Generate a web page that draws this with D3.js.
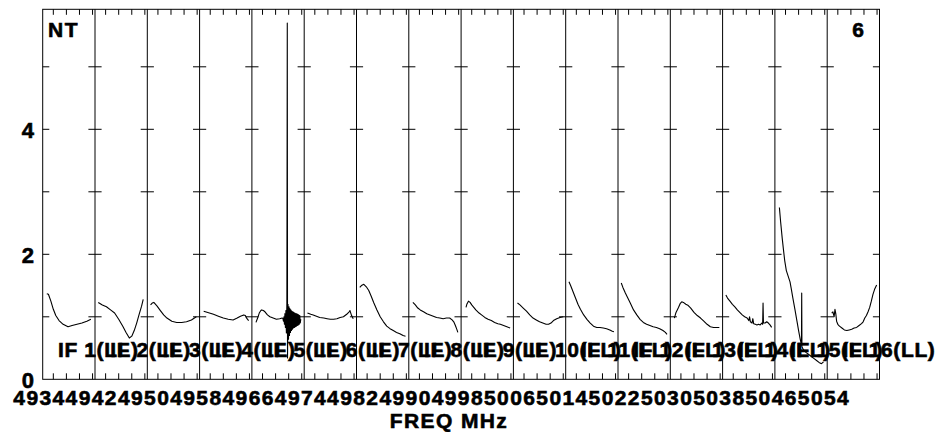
<!DOCTYPE html>
<html><head><meta charset="utf-8">
<script src="https://cdn.jsdelivr.net/npm/d3@7"></script>
<style>
html,body{margin:0;padding:0;background:#fff;}
svg text{font-family:"Liberation Sans",Arial,Helvetica,sans-serif;font-weight:bold;fill:#000;stroke:#000;stroke-width:0.6px;}
</style></head>
<body><svg id="chart" width="944" height="432"></svg>
<script>
// IF reference frequencies (MHz), tick labels along the bottom
const ifFreqs = [4934,4942,4950,4958,4966,4974,4982,4990,4998,5006,5014,5022,5030,5038,5046,5054];
const ifLabels = ifFreqs.map((f,i)=>`IF ${i+1}(LL)`);
const channelsPerIF = 64;
const minorTickChannels = [13,29,45,61];
const yTickValues = [1,2,3,4,5];
const yLabelValues = [0,2,4];
const cornerLeft = "NT";
const cornerRight = "6";
const xTitle = "FREQ MHz";

// amplitude spectra per IF: [channel, amplitude]
const if1 = [[5,1.37],[7,1.36],[10,1.25],[13,1.12],[16,1.02],[20,0.94],[25,0.88],[31,0.84],[36,0.86],[42,0.88],[48,0.9],[54,0.93],[59,0.96]];
const if2 = [[4,1.23],[9,1.19],[14,1.16],[19,1.11],[24,1.06],[29,0.96],[34,0.85],[38,0.75],[42,0.66],[45,0.69],[48,0.78],[51,0.9],[54,1.04],[57,1.17],[59,1.28]];
const if3 = [[4,1.19],[6,1.22],[8,1.23],[12,1.17],[16,1.1],[20,1.03],[24,0.98],[30,0.93],[36,0.91],[42,0.91],[48,0.92],[54,0.95],[60,1.0]];
const if4 = [[5,1.09],[10,1.07],[17,1.04],[23,1.01],[29,0.98],[35,0.96],[41,0.95],[46,0.98],[50,1.01],[54,1.03],[56,1.02],[58,0.97],[60,0.94]];
const if5 = [[5,0.91],[7,0.98],[9,1.06],[11,1.1],[12,1.11],[14,1.1],[16,1.08],[19,1.03],[22,1.0],[26,0.98],[30,0.96],[34,0.97],[37,0.98],
  [38,0.97],[38.6,0.93],[39.2,1.0],[39.8,0.88],[40.4,1.05],[41,0.83],[41.6,1.1],[42.2,0.74],[42.8,1.23],[43.3,5.7],[43.6,0.34],
  [44.2,1.2],[44.8,0.64],[45.4,1.16],[46,0.7],[46.6,1.13],[47.2,0.75],[47.8,1.11],[48.4,0.78],[49,1.09],[49.6,0.8],[50.2,1.08],
  [50.8,0.82],[51.4,1.07],[52,0.83],[52.6,1.06],[53.2,0.84],[53.8,1.05],[54.4,0.85],[55,1.05],[55.6,0.86],[56.2,1.04],[56.8,0.87],
  [57.4,1.03],[58,0.88],[58.6,1.02],[59.2,0.9],[59.8,0.96]];
const if6 = [[4,1.06],[8,1.04],[11,1.03],[15,1.01],[19,0.99],[24,0.98],[28,0.97],[32,0.96],[36,0.96],[40,0.97],[44,0.99],[48,1.0],[52,1.04],[55,1.08],[56,1.1],[58,1.02],[60,0.97]];
const if7 = [[4,1.47],[6,1.5],[9,1.52],[12,1.48],[15,1.42],[18,1.33],[21,1.23],[25,1.11],[29,1.0],[33,0.92],[37,0.85],[41,0.81],[45,0.78],[49,0.75],[53,0.73],[57,0.7],[60,0.69]];
const if8 = [[5,1.23],[8,1.19],[11,1.14],[14,1.11],[18,1.08],[22,1.05],[26,1.03],[30,1.01],[34,0.99],[38,0.98],[42,0.97],[46,0.98],[50,0.98],[53,0.95],[55,0.92],[57,0.86],[59,0.79],[60,0.75]];
const if9 = [[6,1.15],[7,1.2],[9,1.25],[11,1.23],[13,1.19],[15,1.16],[18,1.11],[22,1.06],[25,1.03],[29,0.99],[33,0.96],[37,0.94],[41,0.91],[45,0.89],[48,0.88],[52,0.86],[56,0.84],[60,0.82]];
const if10 = [[5,1.22],[8,1.19],[12,1.14],[16,1.09],[20,1.03],[24,0.98],[28,0.95],[32,0.92],[36,0.9],[40,0.88],[43,0.88],[46,0.9],[49,0.94],[53,0.97],[57,0.99],[61,1.0]];
const if11 = [[4,1.56],[6,1.5],[9,1.4],[12,1.3],[15,1.2],[18,1.12],[22,1.03],[26,0.96],[30,0.9],[34,0.85],[38,0.83],[42,0.83],[46,0.82],[50,0.81],[54,0.79],[57,0.77],[59,0.76]];
const if12 = [[4,1.54],[6,1.47],[9,1.38],[12,1.3],[15,1.22],[19,1.11],[23,1.03],[27,0.96],[31,0.91],[35,0.88],[39,0.86],[43,0.84],[47,0.83],[51,0.81],[55,0.78],[58,0.75],[60,0.72]];
const if13 = [[5,0.98],[7,1.07],[10,1.15],[12,1.21],[14,1.24],[16,1.23],[19,1.2],[22,1.18],[25,1.14],[29,1.07],[33,1.02],[37,0.98],[41,0.93],[45,0.88],[49,0.84],[53,0.83],[57,0.83],[60,0.83]];
const if14 = [[4,1.35],[6,1.3],[9,1.25],[12,1.2],[15,1.16],[18,1.11],[21,1.07],[24,1.03],[27,1.0],[30,0.98],[32,0.94],[33,1.0],[34,0.92],[36,0.9],[37,0.97],[38,0.89],[40,0.88],[42,0.87],[44,0.88],[46,0.87],[48,0.9],[49,0.88],[49.5,1.22],[50,0.9],[52,0.9],[54,0.92],[56,0.9],[58,0.87],[60,0.83]];
const if15 = [[5.5,2.75],[7,2.52],[9,2.25],[10.5,2.07],[12,1.9],[14,1.74],[16,1.66],[18.5,1.56],[20,1.45],[22,1.3],[24.5,1.12],[27,0.93],[29,0.78],[31,0.64],[32.5,0.55],[32.8,1.38],[33.1,0.52],[35,0.47],[38,0.43],[41,0.4],[45,0.36],[48,0.33],[51,0.3],[54,0.27],[57,0.25],[59.5,0.28]];
const if16 = [[5.5,1.06],[7,1.08],[8.5,1.0],[9.5,1.12],[10.5,1.05],[11.5,0.93],[13,0.88],[15,0.85],[18,0.82],[21,0.79],[24,0.78],[27,0.79],[30,0.8],[33,0.82],[36,0.83],[39,0.86],[42,0.89],[44,0.92],[46,0.98],[48,1.02],[50,1.08],[52,1.15],[54,1.25],[56,1.36],[58,1.44],[60.5,1.51]];
const spectra = [if1,if2,if3,if4,if5,if6,if7,if8,if9,if10,if11,if12,if13,if14,if15,if16];

const W = 944, H = 432;
const plot = {left:42.7, right:879.5, top:9.3, bottom:379.3};
const nIF = ifFreqs.length;
const svg = d3.select("#chart");

const x = d3.scaleLinear().domain([0, nIF*channelsPerIF]).range([plot.left, plot.right]);
const y = d3.scaleLinear().domain([0, (plot.bottom-plot.top)/62.5]).range([plot.bottom, plot.top]);

const g = svg.append("g");

// panel separators
g.selectAll("line.sep").data(d3.range(1, nIF)).join("line")
  .attr("x1", k=>x(k*channelsPerIF)).attr("x2", k=>x(k*channelsPerIF))
  .attr("y1", plot.top).attr("y2", plot.bottom)
  .attr("stroke","#000").attr("stroke-width",1);

// frame
g.append("rect").attr("x",plot.left).attr("y",plot.top)
  .attr("width",plot.right-plot.left).attr("height",plot.bottom-plot.top)
  .attr("fill","none").attr("stroke","#000").attr("stroke-width",1);

// y ticks on every boundary
const boundaries = d3.range(0, nIF+1);
boundaries.forEach(k=>{
  const bx = x(k*channelsPerIF);
  const l = k===0 ? 0 : 6.6, r = k===nIF ? 0 : 6.6;
  g.selectAll(null).data(yTickValues).join("line")
    .attr("x1", bx-l).attr("x2", bx+r)
    .attr("y1", d=>y(d)).attr("y2", d=>y(d))
    .attr("stroke","#000").attr("stroke-width",1);
});

// minor x ticks at top and bottom
const minor = [];
d3.range(nIF).forEach(k=>minorTickChannels.forEach(c=>minor.push(k*channelsPerIF+c)));
g.selectAll("line.tb").data(minor).join("line")
  .attr("x1", d=>x(d)).attr("x2", d=>x(d))
  .attr("y1", plot.top).attr("y2", plot.top+5.5)
  .attr("stroke","#000").attr("stroke-width",1);
g.selectAll("line.bb").data(minor).join("line")
  .attr("x1", d=>x(d)).attr("x2", d=>x(d))
  .attr("y1", plot.bottom).attr("y2", plot.bottom-6)
  .attr("stroke","#000").attr("stroke-width",1);

// spectra
const line = d3.line().x(d=>x(d[0])).y(d=>y(d[1]));
spectra.forEach((s,k)=>{
  g.append("path")
    .datum(s.map(p=>[k*channelsPerIF+p[0], p[1]]))
    .attr("d", line).attr("fill","none")
    .attr("stroke","#000").attr("stroke-width",1.1).attr("stroke-linejoin","round");
});

// IF labels
g.selectAll("text.iflab").data(ifLabels).join("text")
  .attr("x", (d,i)=>x(i*channelsPerIF)+15.3).attr("y", 357)
  .attr("font-size", 21).attr("letter-spacing", 0.6)
  .text(d=>d);

// y labels
g.selectAll("text.ylab").data(yLabelValues).join("text")
  .attr("x", 34).attr("y", d=>y(d)+8.5).attr("text-anchor","end")
  .attr("font-size", 22).text(d=>d);

// frequency tick labels
g.selectAll("text.xlab").data(ifFreqs).join("text")
  .attr("x", (d,i)=>x(i*channelsPerIF)-29.4).attr("y", 405)
  .attr("font-size", 21).attr("letter-spacing", 1.4).text(d=>d);

// titles
g.append("text").attr("x", 449).attr("y", 428).attr("text-anchor","middle")
  .attr("font-size",21).attr("letter-spacing",1.4).text(xTitle);
g.append("text").attr("x", 48).attr("y", 37).attr("font-size",21).attr("letter-spacing",1.5).text(cornerLeft);
g.append("text").attr("x", 864).attr("y", 37).attr("text-anchor","end").attr("font-size",21).text(cornerRight);
</script></body></html>
